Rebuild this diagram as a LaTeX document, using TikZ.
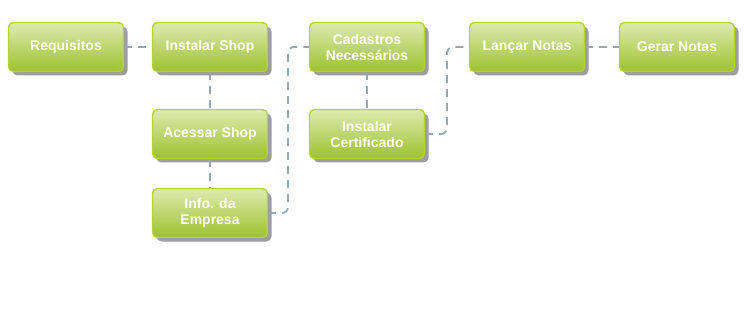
\documentclass[tikz,border=0pt]{standalone}
\usepackage{fontspec}
\setmainfont{Liberation Sans}
\usetikzlibrary{shadows}
\definecolor{boxtop}{HTML}{DCEBB0}
\definecolor{boxbot}{HTML}{9DC22E}
\definecolor{boxedge}{HTML}{B4D335}
\definecolor{conn}{HTML}{95A7B0}
\tikzset{
  stepbox/.style={rectangle, rounded corners=5pt, minimum width=115pt, minimum height=49pt,
    draw=boxedge, line width=1.4pt, top color=boxtop, bottom color=boxbot,
    text=white, font=\bfseries\fontsize{14}{16}\selectfont, align=center,
    drop shadow={shadow xshift=4pt, shadow yshift=-4pt, fill=black!45, opacity=0.85}},
  conline/.style={draw=conn, line width=1.8pt, dash pattern=on 8pt off 6pt, rounded corners=6pt}
}
\begin{document}
\begin{tikzpicture}[x=1pt,y=-1pt]
\useasboundingbox (0,0) rectangle (755,310);
\node[stepbox] (req) at (66,47) {Requisitos};
\node[stepbox] (ins) at (210,47) {Instalar Shop};
\node[stepbox] (ace) at (210,134) {Acessar Shop};
\node[stepbox] (inf) at (210,213) {Info. da\\Empresa};
\node[stepbox] (cad) at (367,47) {Cadastros\\Necessários};
\node[stepbox] (cer) at (367,134) {Instalar\\Certificado};
\node[stepbox] (lan) at (527,47) {Lançar Notas};
\node[stepbox] (ger) at (677,47) {Gerar Notas};
\draw[conline] (req.east) -- (ins.west);
\draw[conline] (ins.south) -- (ace.north);
\draw[conline] (ace.south) -- (inf.north);
\draw[conline] (inf.east) -- (288,213) -- (288,47) -- (cad.west);
\draw[conline] (cad.south) -- (cer.north);
\draw[conline] (cer.east) -- (447,134) -- (447,47) -- (lan.west);
\draw[conline] (lan.east) -- (ger.west);
\end{tikzpicture}
\end{document}
